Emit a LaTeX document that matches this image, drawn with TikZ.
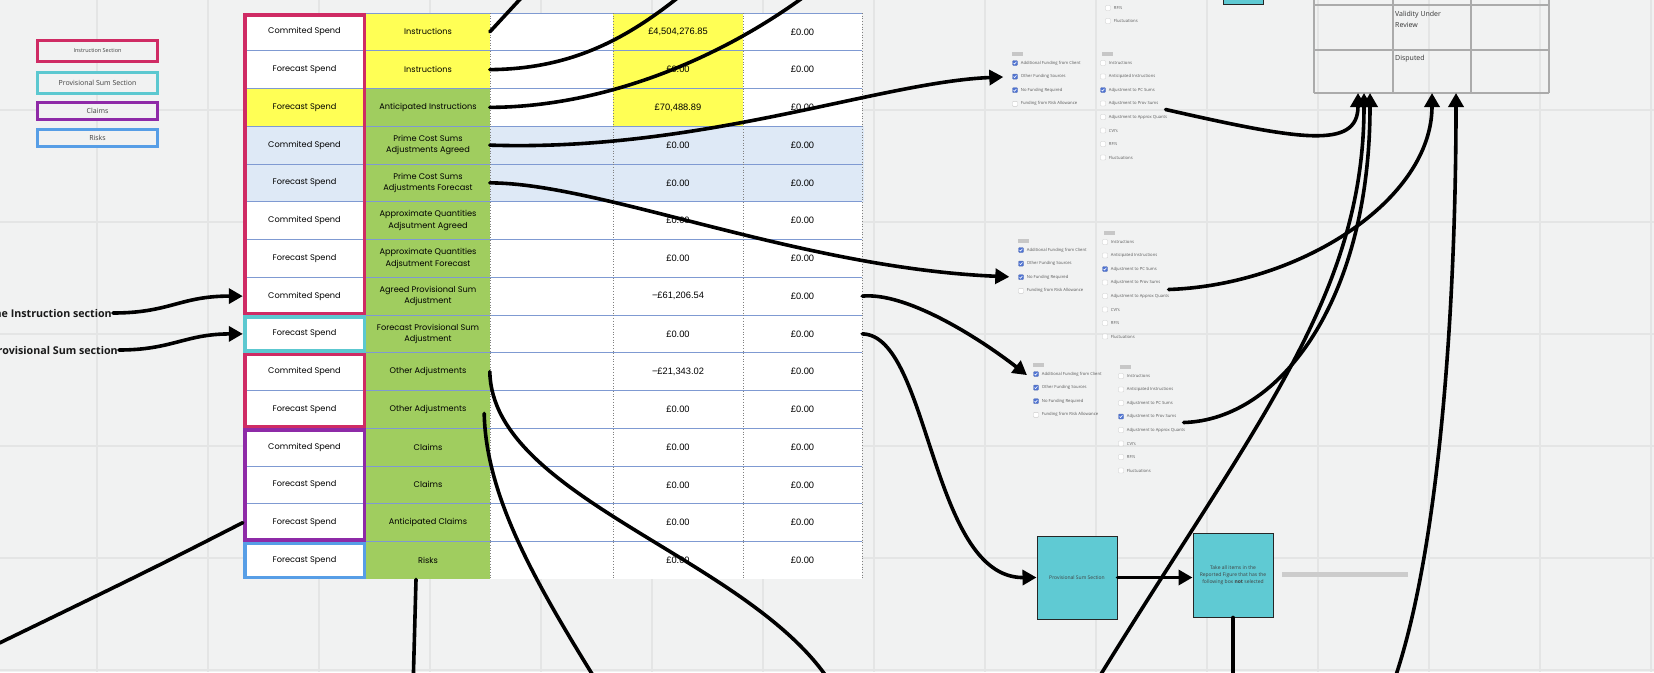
\documentclass[tikz,border=0pt]{standalone}
\usepackage{fontspec}
\setmainfont{Open Sans}
\newfontfamily\gothfont{Poppins}
\newfontfamily\numfont{Liberation Sans}
\usetikzlibrary{arrows.meta,calc}

\definecolor{board}{HTML}{F1F2F2}
\definecolor{boardgrid}{HTML}{E4E5E5}
\definecolor{instrcol}{HTML}{CF2B64}
\definecolor{provcol}{HTML}{5CC8D0}
\definecolor{claimcol}{HTML}{8E2AA7}
\definecolor{riskcol}{HTML}{579EE6}
\definecolor{cellyellow}{HTML}{FFFF55}
\definecolor{cellgreen}{HTML}{A0CD5F}
\definecolor{cellblue}{HTML}{DEE9F6}
\definecolor{rowrule}{HTML}{7F9AD2}
\definecolor{tickblue}{HTML}{4D72D3}
\definecolor{boxcyan}{HTML}{5FCAD3}
\definecolor{gridgrey}{HTML}{ABABAB}

\tikzset{
  conn/.style={line width=3.6pt, black, line cap=round},
  headed/.style={-{Triangle[length=14pt,width=15pt]}},
  legendbox/.style={draw=#1, line width=3pt, fill=board, minimum width=120pt, inner sep=0pt, font=\fontsize{7}{8}\selectfont, text=black!75},
  sectionbox/.style={draw=#1, line width=3.5pt},
  spendcell/.style={minimum width=123pt, minimum height=37.75pt, inner sep=0pt, font=\gothfont\fontsize{8.2}{11.5}\selectfont, align=center},
  valcell/.style={minimum width=#1, minimum height=37.75pt, inner sep=0pt, font=\numfont\fontsize{9.3}{11}\selectfont},
  cbox/.style={draw=#1!60!gray, fill=#1, line width=0.4pt, minimum size=5pt, inner sep=0pt, rounded corners=0.8pt},
  cblabel/.style={anchor=west, inner sep=0pt, font=\fontsize{4.2}{5}\selectfont, text=black!65},
  tagbar/.style={fill=black!22},
  flowbox/.style={draw=black!85, line width=1pt, fill=boxcyan, minimum width=80pt, minimum height=84pt, inner sep=1pt, align=center, font=\fontsize{5}{7.2}\selectfont, text=black!75},
  gridtext/.style={anchor=north west, align=left, inner sep=1pt, font=\fontsize{7}{10.5}\selectfont, text=black!80}
}

\begin{document}
\begin{tikzpicture}[x=1pt,y=-1pt]
    \useasboundingbox (0,0) rectangle (1654,672);
    % Draw the board
    \fill[board] (0,0) rectangle (1654,672);
    \foreach \gx in {-14,97,...,1651} \draw[boardgrid, line width=1.5pt] (\gx,0) -- (\gx,672);
    \foreach \gy in {110,222,334,446,558,670} \draw[boardgrid, line width=1.5pt] (0,\gy) -- (1654,\gy);

    % Draw the legend
    \node[legendbox=instrcol, minimum height=21pt, font=\fontsize{5.5}{6}\selectfont] (lgI) at (97.5,51) {Instruction Section};
    \node[legendbox=provcol, minimum height=21pt] (lgP) at (97.5,83) {Provisional Sum Section};
    \node[legendbox=claimcol, minimum height=17pt] (lgC) at (97.5,111) {Claims};
    \node[legendbox=riskcol, minimum height=17pt] (lgR) at (97.5,138) {Risks};

    % Define the table fills
    \fill[white] (243,13) rectangle (862,579.25);
    \fill[cellblue] (243,126.25) rectangle (864,201.75);
    \fill[cellyellow] (243,88.5) rectangle (366,126.25);
    \fill[cellyellow] (366,13) rectangle (490,88.5);
    \fill[cellgreen] (366,88.5) rectangle (490,579.25);
    \fill[cellyellow] (613,13) rectangle (743,126.25);
    \foreach \k in {0,...,14} \draw[rowrule, line width=0.9pt] (243,{13+\k*37.75}) -- (862,{13+\k*37.75});
    \foreach \vx in {490,613,743,862} \draw[gray, dotted, line width=0.7pt] (\vx,13) -- (\vx,579.25);

    % Draw the table rows
    \foreach \r/\spend/\kind/\cost in {
        1/Commited Spend/Instructions/{£4,504,276.85},
        2/Forecast Spend/Instructions/£0.00,
        3/Forecast Spend/Anticipated Instructions/{£70,488.89},
        4/Commited Spend/{Prime Cost Sums\\Adjustments Agreed}/£0.00,
        5/Forecast Spend/{Prime Cost Sums\\Adjustments Forecast}/£0.00,
        6/Commited Spend/{Approximate Quantities\\Adjsutment Agreed}/£0.00,
        7/Forecast Spend/{Approximate Quantities\\Adjsutment Forecast}/£0.00,
        8/Commited Spend/{Agreed Provisional Sum\\Adjustment}/{−£61,206.54},
        9/Forecast Spend/{Forecast Provisional Sum\\Adjustment}/£0.00,
        10/Commited Spend/Other Adjustments/{−£21,343.02},
        11/Forecast Spend/Other Adjustments/£0.00,
        12/Commited Spend/Claims/£0.00,
        13/Forecast Spend/Claims/£0.00,
        14/Forecast Spend/Anticipated Claims/£0.00,
        15/Forecast Spend/Risks/£0.00}{
        \node[spendcell] (spend-\r) at (304.5,{13+(\r-0.5)*37.75}) {\spend};
        \node[spendcell, minimum width=124pt] (kind-\r) at (428,{13+(\r-0.5)*37.75}) {\kind};
        \node[valcell=123pt] (blank-\r) at (551.5,{13+(\r-0.5)*37.75}) {};
        \node[valcell=130pt] (cost-\r) at (678,{13+(\r-0.5)*37.75}) {\cost};
        \node[valcell=119pt] (fore-\r) at (802.5,{13+(\r-0.5)*37.75}) {£0.00};
    }

    % Draw the section borders
    \foreach \ya/\yb/\sc in {13/315/instrcol, 315/352.75/provcol, 352.75/428.25/instrcol, 428.25/541.5/claimcol, 541.5/579.25/riskcol}
        \draw[sectionbox=\sc] (244.75,{\ya+1.75}) rectangle (364.25,{\yb-1.75});

    % Draw the side labels
    \node[font=\bfseries\fontsize{10.7}{12}\selectfont, anchor=east, inner sep=1pt, text=black!90] (lblI) at (113,313) {the Instruction section};
    \node[font=\bfseries\fontsize{10.7}{12}\selectfont, anchor=east, inner sep=1pt, text=black!90] (lblP) at (119,350) {the Provisional Sum section};

    % Draw the funding panels
    \node[cbox=white] (top-1) at (1108,8) {};
    \node[cblabel] at ([xshift=3pt]top-1.east) {RFI's};
    \node[cbox=white] (top-2) at (1108,21) {};
    \node[cblabel] at ([xshift=3pt]top-2.east) {Fluctuations};
    \foreach \p/\lx/\ly/\rx/\ry/\on in {1/1015/63/1103/63/3, 2/1021/250/1105/242/3, 3/1036/374/1121/376/4}{
        \fill[tagbar] ({\lx-3.5},{\ly-11}) rectangle ++(11,4);
        \foreach \t [count=\i] in {Additional Funding from Client, Other Funding Sources, No Funding Required, Funding from Risk Allowance}{
            \ifnum\i<4 \def\cb{tickblue}\else\def\cb{white}\fi
            \node[cbox=\cb] (f\p-\i) at (\lx,{\ly+(\i-1)*13.6}) {};
            \draw[white, line width=0.6pt] ([xshift=-1.4pt]f\p-\i.center) -- ++(1,1) -- ++(1.8,-2.2);
            \node[cblabel] at ([xshift=3pt]f\p-\i.east) {\t};
        }
        \fill[tagbar] ({\rx-1},{\ry-11}) rectangle ++(11,4);
        \foreach \t [count=\i] in {Instructions, Anticipated Instructions, Adjustment to PC Sums, Adjustment to Prov Sums, Adjustment to Approx Quants, CVI's, RFI's, Fluctuations}{
            \ifnum\i=\on \def\cb{tickblue}\else\def\cb{white}\fi
            \node[cbox=\cb] (b\p-\i) at (\rx,{\ry+(\i-1)*13.5}) {};
            \draw[white, line width=0.6pt] ([xshift=-1.4pt]b\p-\i.center) -- ++(1,1) -- ++(1.8,-2.2);
            \node[cblabel] (a\p-\i) at ([xshift=3pt]b\p-\i.east) {\t};
        }
    }

    % Draw the flow boxes
    \node[flowbox, minimum height=83pt] (box1) at (1077,577.5) {Provisional Sum Section};
    \node[flowbox] (box2) at (1233,575) {Take all items in the\\Reported Figure that has the\\following box \textbf{not} selected};
    \draw[line width=5pt, black!20] (1282,574) -- (1408,574);
    \draw[draw=black!85, line width=1pt, fill=boxcyan] (1223,-6) rectangle (1263,4.5);

    % Draw the status grid
    \foreach \gx in {1314,1393,1471,1549} \draw[gridgrey, line width=1.8pt] (\gx,-5) -- (\gx,93);
    \foreach \gy in {5,50,93} \draw[gridgrey, line width=1.8pt] (1314,\gy) -- (1549,\gy);
    \node[gridtext] (validity) at (1394,10) {Validity Under\\Review};
    \node[gridtext] (disputed) at (1394,54) {Disputed};

    % Define the loose ends
    \coordinate (topA) at (523,-4);
    \coordinate (topB) at (680,-4);
    \coordinate (topC) at (805,-4);
    \coordinate (botA) at (835,690);
    \coordinate (botB) at (602,690);
    \coordinate (botC) at (413,690);
    \coordinate (botD) at (-15,650);
    \coordinate (botE) at (1090,692);
    \coordinate (botF) at (1390,692);
    \coordinate (botG) at (1233,692);
    \coordinate (in1) at (1358,93);
    \coordinate (in2) at (1364,93);
    \coordinate (in3) at (1370,93);
    \coordinate (in4) at (1432,93);
    \coordinate (in5) at (1456,93);

    % Draw the connectors from the table
    \draw[conn] (blank-1.west) -- (topA);
    \draw[conn] (blank-2.west) .. controls (570,69) and (625,40) .. (topB);
    \draw[conn] (blank-3.west) .. controls (600,107) and (715,62) .. (topC);
    \draw[conn, headed, shorten >=9pt] (blank-4.west) .. controls (700,152) and (880,82) .. (f1-2.west);
    \draw[conn, headed, shorten >=9pt] (blank-5.west) .. controls (600,183) and (800,268) .. (f2-3.west);
    \draw[conn, headed, shorten >=8pt] (fore-8.east) .. controls (905,292) and (975,335) .. ([yshift=-6pt]f3-1.west);
    \draw[conn, headed] (fore-9.east) .. controls (930,335) and (930,578) .. (box1.west);
    \draw[conn] (blank-10.west) .. controls (492,500) and (760,560) .. (botA);
    \draw[conn] ([xshift=-6pt,yshift=-4pt]kind-11.east) .. controls (486,500) and (540,590) .. (botB);
    \draw[conn] ([xshift=-12pt]kind-15.south) -- (botC);
    \draw[conn] (spend-14.west) .. controls (150,570) .. (botD);
    \draw[conn, headed] (lblI.east) .. controls (170,313) and (180,296) .. (spend-8.west);
    \draw[conn, headed] (lblP.east) .. controls (172,350) and (185,334) .. (spend-9.west);

    % Draw the connectors to the grid
    \draw[conn, headed] (box1.east) -- (box1.east -| box2.west);
    \draw[conn] (box2.south) -- (botG);
    \draw[conn, headed] ([xshift=7pt,yshift=-6pt]a1-4.east) .. controls (1300,140) and (1358,150) .. (in1);
    \draw[conn, headed] ([xshift=8pt,yshift=-7pt]a2-4.east) .. controls (1300,285) and (1432,200) .. (in4);
    \draw[conn, headed] ([xshift=7pt,yshift=-6pt]a3-4.east) .. controls (1280,420) and (1370,300) .. (in3);
    \draw[conn, headed] (botE) .. controls (1250,430) and (1364,300) .. (in2);
    \draw[conn, headed] (botF) .. controls (1440,560) and (1456,300) .. (in5);
\end{tikzpicture}
\end{document}
